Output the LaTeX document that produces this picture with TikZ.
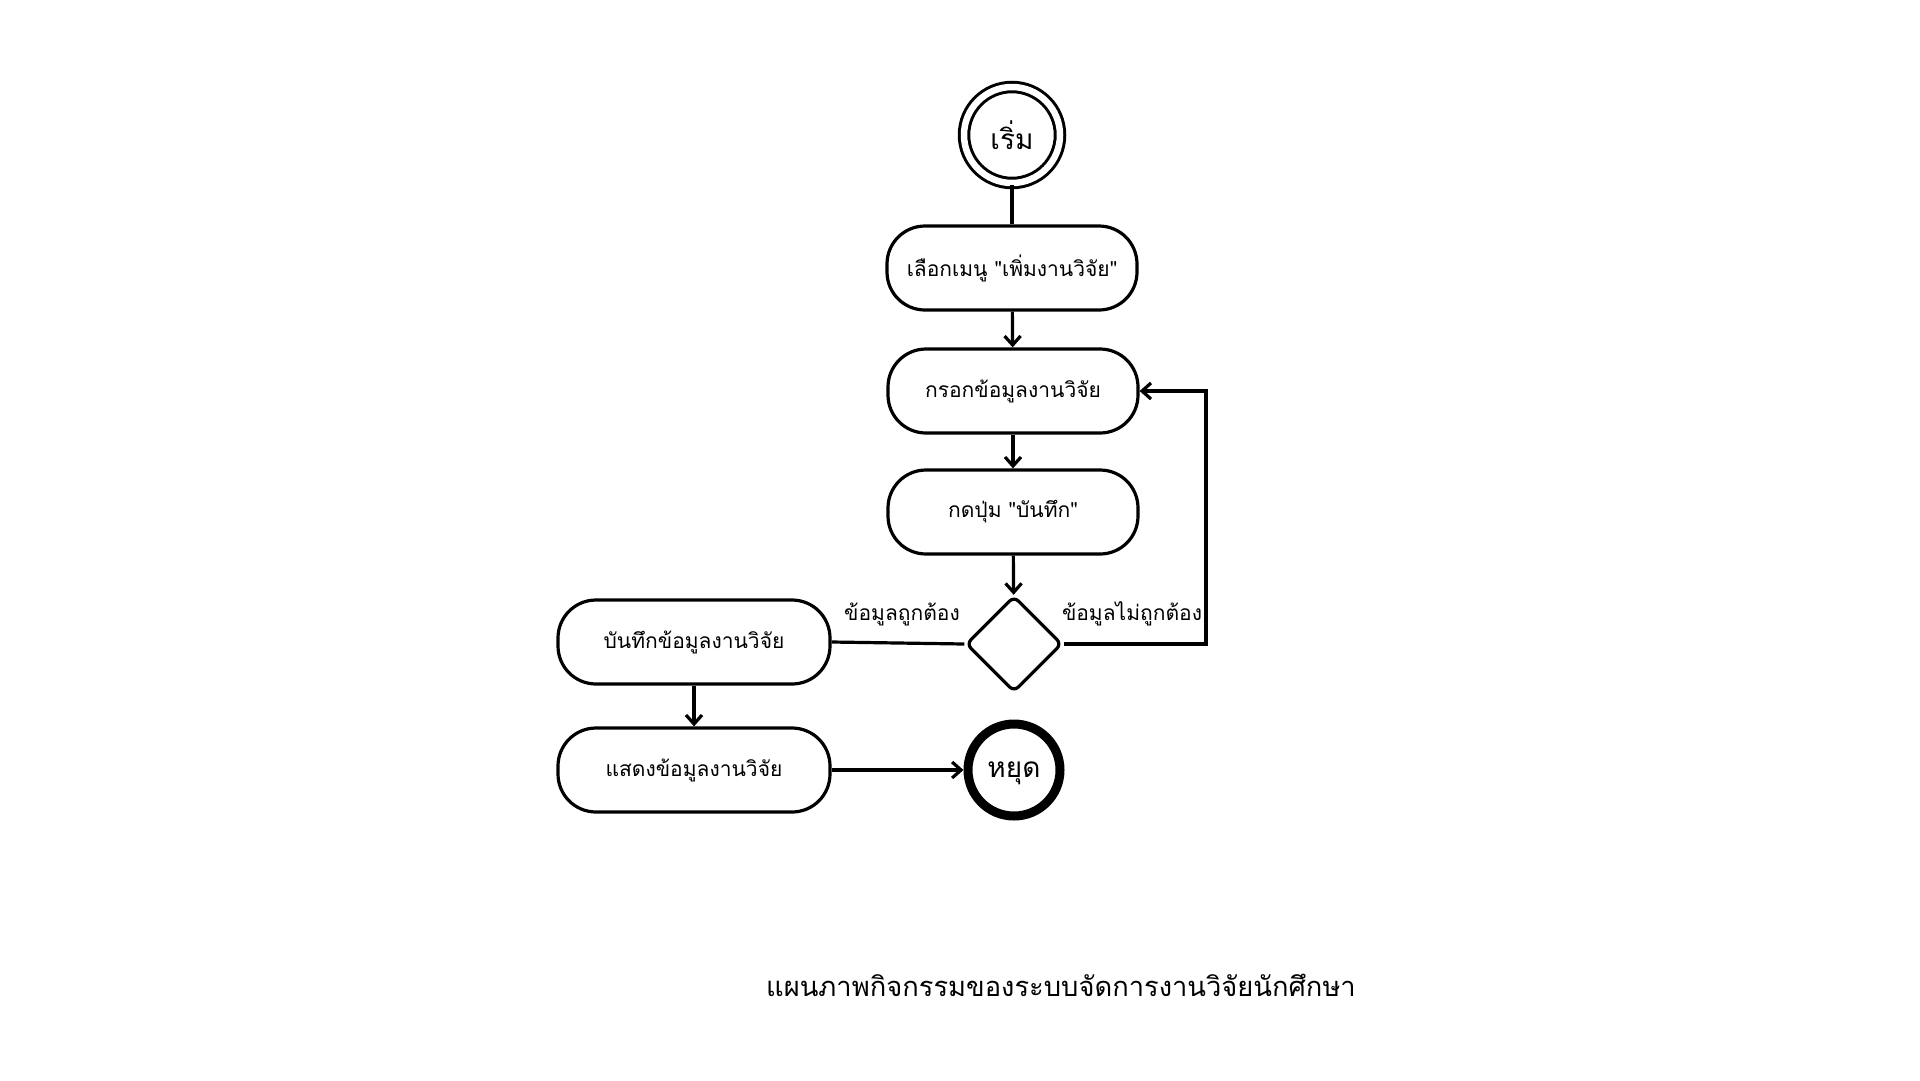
\documentclass[tikz,border=0pt]{standalone}
\usepackage{fontspec}
\newfontfamily\thaifont[Script=Thai]{Loma}
\usetikzlibrary{shapes.geometric,arrows.meta}
\tikzset{
  actbox/.style={draw, line width=3.2pt, rounded corners=38pt, minimum width=250pt, minimum height=84pt, font=\thaifont\fontsize{21}{25}\selectfont, inner sep=0pt},
  decbox/.style={draw, diamond, line width=3.2pt, rounded corners=6pt, minimum width=96pt, minimum height=96pt, inner sep=0pt},
  lbl/.style={font=\thaifont\fontsize{21}{25}\selectfont},
  conn/.style={line width=3.2pt},
  arr/.style={line width=3.2pt, -{Straight Barb[length=9pt,width=16pt,line width=3.2pt]}}
}
\begin{document}
\begin{tikzpicture}[x=1pt,y=-1pt]
\useasboundingbox[fill=white] (0,0) rectangle (1920,1080);
\node[circle, draw, line width=3pt, double, double distance=6.5pt, minimum size=96pt, inner sep=0pt, font=\thaifont\fontsize{28}{32}\selectfont] (start) at (1012,135) {เริ่ม};
\node[actbox] (b1) at (1012,268) {เลือกเมนู "เพิ่มงานวิจัย"};
\node[actbox] (b2) at (1013,391) {กรอกข้อมูลงานวิจัย};
\node[actbox] (b3) at (1013,512) {กดปุ่ม "บันทึก"};
\node[decbox] (d) at (1014,644) {};
\node[actbox, minimum width=272pt] (sv) at (694,642) {บันทึกข้อมูลงานวิจัย};
\node[actbox, minimum width=272pt] (sh) at (694,770) {แสดงข้อมูลงานวิจัย};
\node[circle, draw, line width=9pt, minimum size=92pt, inner sep=0pt, text height=15pt, text depth=0pt, font=\thaifont\fontsize{28}{32}\selectfont] (stop) at (1014,770) {หยุด};
\coordinate (lr) at (1206,644);
\coordinate (ur) at (1206,391);
\node[lbl] (lok) at (902,614) {ข้อมูลถูกต้อง};
\node[lbl] (lbad) at (1132,614) {ข้อมูลไม่ถูกต้อง};
\node[font=\thaifont\fontsize{27.3}{32}\selectfont] (title) at (1061,985) {แผนภาพกิจกรรมของระบบจัดการงานวิจัยนักศึกษา};
\draw[conn] (start) -- (b1);
\draw[arr] (b1) -- (b2);
\draw[arr] (b2) -- (b3);
\draw[arr] (b3) -- (d);
\draw[conn] (d.west) -- (sv.east);
\draw[arr] (d.east) -- (lr) -- (ur) -- (b2.east);
\draw[arr] (sv) -- (sh);
\draw[arr] (sh) -- (stop);
\end{tikzpicture}
\end{document}
